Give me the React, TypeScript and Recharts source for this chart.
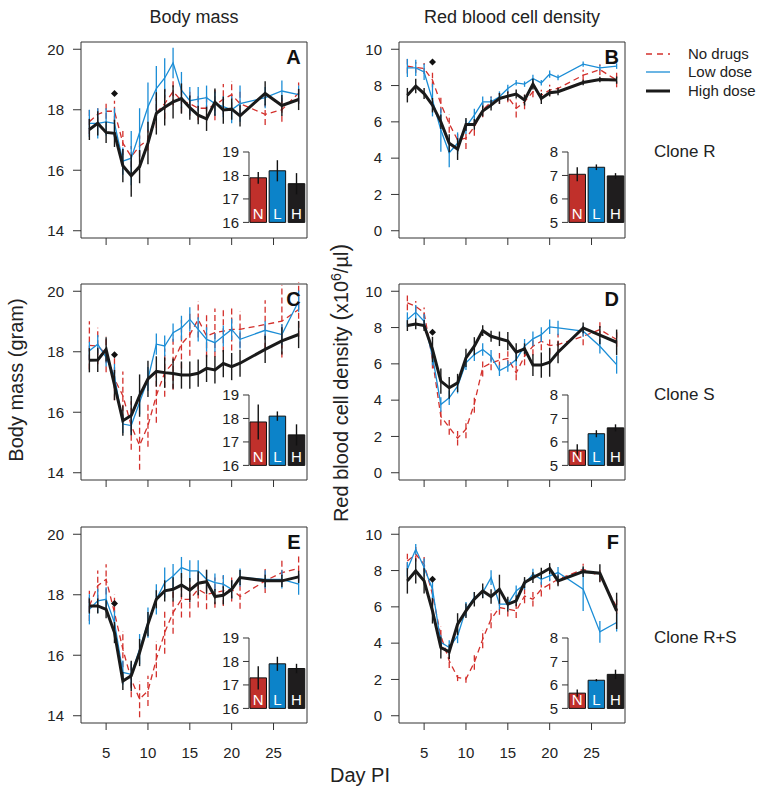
import { ComposedChart, Line, XAxis, YAxis, ErrorBar, ReferenceArea, ReferenceDot, BarChart, Bar, Cell, LabelList } from "recharts"

const FONT = '"Liberation Sans", Arial, Helvetica, sans-serif'
const RED = "#d3302c"
const BLUE = "#1b8dd6"
const BLACK = "#1a1a1a"
const BAR_COLORS = ["#c0302b", "#0c83c9", "#1f1d1e"]

const DAYS = [3, 4, 5, 6, 7, 8, 9, 10, 11, 12, 13, 14, 15, 16, 17, 18, 19, 20, 21, 24, 26, 28]
const X_TICKS = [5, 10, 15, 20, 25]
const MASS_TICKS = [14, 16, 18, 20]
const RBC_TICKS = [0, 2, 4, 6, 8, 10]
const MASS_INSET_TICKS = [16, 17, 18, 19]
const RBC_INSET_TICKS = [5, 6, 7, 8]
const GROUPS = ["N", "L", "H"]

// A: body mass, clone R
const A_N = [17.6, 17.85, 17.95, 17.95, 16.9, 16.45, 16.8, 17.0, 17.9, 18.2, 18.6, 18.3, 18.2, 18.05, 18.05, 18.15, 18.35, 18.5, 18.2, 17.85, 18.0, 18.55]
const A_NE = [0.4, 0.3, 0.25, 0.35, 0.4, 0.35, 0.35, 0.35, 0.5, 0.5, 0.45, 0.4, 0.4, 0.4, 0.4, 0.5, 0.5, 0.45, 0.4, 0.35, 0.4, 0.35]
const A_L = [17.55, 17.55, 17.6, 17.55, 16.3, 16.4, 17.25, 18.1, 18.7, 19.05, 19.55, 18.65, 18.3, 18.35, 18.4, 18.2, 18.1, 18.0, 18.2, 18.4, 18.62, 18.5]
const A_LE = [0.45, 0.5, 0.45, 0.5, 0.45, 0.9, 0.8, 0.8, 0.75, 0.65, 0.5, 0.6, 0.45, 0.4, 0.4, 0.4, 0.35, 0.45, 0.6, 0.35, 0.35, 0.3]
const A_H = [17.35, 17.55, 17.25, 17.22, 16.15, 15.82, 16.12, 16.9, 17.88, 18.08, 18.26, 18.37, 18.07, 17.82, 17.7, 18.25, 17.99, 18.02, 17.8, 18.54, 18.14, 18.34]
const A_HE = [0.35, 0.4, 0.35, 0.45, 0.55, 0.7, 0.55, 0.7, 0.7, 0.6, 0.55, 0.5, 0.4, 0.3, 0.4, 0.45, 0.45, 0.35, 0.35, 0.4, 0.35, 0.35]

// B: red blood cells, clone R
const B_N = [9.07, 9.0, 8.94, 8.3, 7.0, 5.9, 5.0, 5.1, 5.73, 6.65, 7.1, 7.29, 7.38, 6.74, 7.1, 7.66, 7.47, 7.75, 7.84, 8.57, 8.88, 8.3]
const B_NE = [0.4, 0.3, 0.3, 0.4, 0.5, 0.5, 0.5, 0.6, 0.5, 0.4, 0.3, 0.3, 0.3, 0.5, 0.4, 0.3, 0.3, 0.3, 0.25, 0.3, 0.3, 0.4]
const B_L = [8.97, 8.97, 8.75, 7.2, 5.55, 4.3, 4.82, 5.73, 6.37, 7.1, 7.1, 7.38, 7.84, 8.15, 8.08, 8.39, 8.15, 8.63, 8.44, 9.18, 8.97, 9.07]
const B_LE = [0.5, 0.45, 0.45, 0.9, 1.2, 0.8, 0.6, 0.4, 0.35, 0.3, 0.3, 0.3, 0.2, 0.15, 0.15, 0.2, 0.15, 0.2, 0.15, 0.15, 0.15, 0.15]
const B_H = [7.47, 7.97, 7.56, 6.92, 6.0, 4.82, 4.5, 5.86, 5.86, 6.6, 6.92, 7.29, 7.42, 7.53, 7.2, 8.08, 7.29, 7.6, 7.66, 8.17, 8.33, 8.3]
const B_HE = [0.4, 0.4, 0.3, 0.4, 0.4, 0.5, 0.6, 0.35, 0.3, 0.3, 0.3, 0.3, 0.25, 0.25, 0.3, 0.3, 0.3, 0.2, 0.2, 0.15, 0.15, 0.2]

// C: body mass, clone S
const C_N = [18.21, 18.19, 17.92, 17.1, 16.55, 15.56, 14.9, 15.56, 16.55, 17.31, 17.64, 18.25, 18.57, 19.07, 18.52, 18.63, 18.68, 18.74, 18.74, 18.9, 19.01, 19.4]
const C_NE = [0.8, 0.6, 0.6, 0.7, 0.8, 0.8, 0.8, 0.7, 0.9, 0.8, 0.9, 0.8, 0.7, 0.6, 0.7, 0.8, 0.7, 0.7, 0.6, 0.8, 1.2, 0.9]
const C_L = [18.03, 18.25, 17.81, 17.2, 15.61, 15.56, 16.33, 17.1, 18.25, 18.19, 18.63, 18.79, 19.07, 18.74, 18.41, 18.3, 18.52, 18.74, 18.41, 18.71, 18.57, 19.67]
const C_LE = [0.3, 0.3, 0.3, 0.4, 0.3, 0.3, 0.4, 0.4, 0.35, 0.35, 0.3, 0.4, 0.4, 0.4, 0.4, 0.3, 0.35, 0.35, 0.3, 0.3, 0.35, 0.35]
const C_H = [17.72, 17.73, 18.08, 16.9, 15.72, 15.89, 16.55, 17.1, 17.35, 17.31, 17.28, 17.23, 17.23, 17.29, 17.45, 17.4, 17.61, 17.51, 17.62, 18.08, 18.36, 18.57]
const C_HE = [0.4, 0.4, 0.4, 0.5, 0.5, 0.65, 0.7, 0.6, 0.5, 0.5, 0.5, 0.45, 0.45, 0.45, 0.45, 0.45, 0.45, 0.45, 0.45, 0.45, 0.45, 0.45]

// D: red blood cells, clone S
const D_N = [9.36, 9.17, 8.81, 6.24, 3.1, 2.5, 1.9, 2.4, 3.8, 5.8, 6.05, 6.2, 6.3, 5.5, 6.42, 6.97, 7.25, 7.01, 7.06, 7.52, 7.89, 7.34]
const D_NE = [0.4, 0.3, 0.3, 0.5, 0.5, 0.4, 0.4, 0.5, 0.5, 0.5, 0.4, 0.4, 0.4, 0.4, 0.5, 0.5, 0.5, 0.5, 0.6, 0.5, 0.4, 0.4]
const D_L = [8.44, 8.84, 8.35, 6.42, 3.76, 4.13, 4.77, 6.06, 6.51, 6.79, 6.42, 5.63, 5.87, 6.24, 6.97, 7.38, 7.61, 8.04, 7.98, 7.8, 6.97, 5.96]
const D_LE = [0.4, 0.4, 0.4, 0.5, 0.4, 0.4, 0.4, 0.4, 0.35, 0.35, 0.35, 0.3, 0.3, 0.35, 0.4, 0.4, 0.4, 0.4, 0.4, 0.3, 0.4, 0.5]
const D_H = [8.11, 8.2, 8.11, 6.79, 5.05, 4.68, 4.95, 6.33, 6.97, 7.83, 7.52, 7.38, 7.25, 6.64, 6.83, 5.93, 5.93, 6.09, 6.64, 7.98, 7.58, 7.19]
const D_HE = [0.3, 0.3, 0.3, 0.7, 0.7, 0.6, 0.5, 0.5, 0.5, 0.3, 0.3, 0.4, 0.5, 0.5, 0.3, 0.6, 0.7, 0.8, 0.6, 0.3, 0.5, 0.7]

// E: body mass, clone R+S
const E_N = [17.63, 18.3, 18.51, 17.41, 16.2, 15.21, 14.55, 14.82, 15.87, 16.75, 17.41, 17.85, 17.85, 18.18, 18.02, 18.07, 18.13, 18.18, 17.94, 18.46, 18.73, 18.87]
const E_NE = [0.5, 0.5, 0.5, 0.6, 0.6, 0.6, 0.6, 0.5, 0.6, 0.7, 0.7, 0.6, 0.6, 0.6, 0.5, 0.5, 0.5, 0.4, 0.4, 0.4, 0.4, 0.4]
const E_L = [17.52, 17.8, 17.85, 17.08, 15.43, 15.37, 16.2, 17.08, 17.85, 18.4, 18.62, 18.9, 18.79, 18.79, 18.51, 18.4, 18.35, 18.18, 18.57, 18.51, 18.51, 18.35]
const E_LE = [0.5, 0.4, 0.4, 0.4, 0.4, 0.4, 0.5, 0.5, 0.5, 0.5, 0.4, 0.35, 0.35, 0.35, 0.3, 0.3, 0.3, 0.3, 0.3, 0.3, 0.3, 0.35]
const E_H = [17.63, 17.63, 17.52, 16.75, 15.15, 15.32, 16.09, 17.03, 17.85, 18.13, 18.18, 18.32, 18.15, 18.38, 18.43, 17.94, 17.98, 18.18, 18.57, 18.46, 18.46, 18.59]
const E_HE = [0.25, 0.25, 0.3, 0.35, 0.3, 0.5, 0.45, 0.4, 0.3, 0.35, 0.4, 0.4, 0.4, 0.4, 0.4, 0.25, 0.3, 0.3, 0.25, 0.2, 0.2, 0.2]

// F: red blood cells, clone R+S
const F_N = [8.53, 8.9, 8.35, 6.7, 4.4, 3.03, 2.11, 2.02, 2.94, 4.22, 5.32, 5.96, 5.87, 5.78, 6.6, 6.42, 6.97, 7.25, 7.52, 8.07, 7.71, 6.0]
const F_NE = [0.4, 0.4, 0.4, 0.5, 0.5, 0.4, 0.2, 0.2, 0.4, 0.5, 0.5, 0.4, 0.4, 0.4, 0.4, 0.4, 0.4, 0.3, 0.3, 0.3, 0.3, 0.4]
const F_L = [8.07, 9.17, 8.17, 6.97, 4.04, 3.76, 4.4, 5.87, 6.51, 6.79, 7.61, 6.15, 6.15, 6.88, 7.25, 7.8, 7.52, 7.71, 7.89, 6.97, 4.62, 5.14]
const F_LE = [0.4, 0.3, 0.5, 0.5, 0.4, 0.4, 0.4, 0.4, 0.3, 0.3, 0.4, 0.3, 0.3, 0.3, 0.3, 0.3, 0.3, 0.3, 0.3, 1.2, 0.6, 0.5]
const F_H = [7.43, 7.98, 7.43, 5.78, 3.76, 3.52, 5.05, 5.78, 6.42, 6.88, 6.57, 6.97, 6.15, 6.33, 7.34, 7.61, 7.85, 8.11, 7.43, 7.94, 7.85, 5.78]
const F_HE = [0.7, 0.7, 0.7, 0.7, 0.6, 0.4, 0.6, 0.4, 0.4, 0.4, 0.4, 0.8, 0.4, 0.3, 0.3, 0.3, 0.3, 0.3, 0.3, 0.3, 0.5, 1.0]

// inset means (whole period) and errors, order N, L, H
const A_BAR = [17.9, 18.2, 17.65]
const A_BAR_E = [0.25, 0.45, 0.45]
const B_BAR = [7.05, 7.35, 6.98]
const B_BAR_E = [0.3, 0.12, 0.12]
const C_BAR = [17.85, 18.1, 17.3]
const C_BAR_E = [0.75, 0.2, 0.45]
const D_BAR = [5.65, 6.35, 6.6]
const D_BAR_E = [0.25, 0.15, 0.15]
const E_BAR = [17.3, 17.9, 17.7]
const E_BAR_E = [0.5, 0.3, 0.2]
const F_BAR = [5.65, 6.2, 6.45]
const F_BAR_E = [0.15, 0.05, 0.2]

// diamond markers (day, value)
const A_MARK = [6, 18.54]
const B_MARK = [6, 9.3]
const C_MARK = [6, 17.9]
const D_MARK = [6, 7.74]
const E_MARK = [6, 17.71]
const F_MARK = [6, 7.52]

const X_DOMAIN = [2, 29]
const MASS_DOMAIN = [13.76, 20.24]
const RBC_DOMAIN = [-0.4, 10.4]

const BOX_W = 226
const BOX_H = 196
const COLS = [80.7, 399]
const ROWS = [41.7, 284.3, 527.3]
const LEFT_PAD = 45
const TOP_PAD = 10
const X_AXIS_H = 46

const Diamond = (p: any) => (
  <path d={`M${p.cx},${p.cy - 3.5}L${p.cx + 3.5},${p.cy}L${p.cx},${p.cy + 3.5}L${p.cx - 3.5},${p.cy}Z`} fill="#111" />
)

function Panel({ col, row, letter, n, ne, l, le, h, he, bars, barErr, mark, rbc }: any) {
  const left = COLS[col]
  const top = ROWS[row]
  const domain = rbc ? RBC_DOMAIN : MASS_DOMAIN
  const rows = DAYS.map((day, i) => ({ day, n: n[i], ne: ne[i], l: l[i], le: le[i], h: h[i], he: he[i] }))
  const barRows = GROUPS.map((g, i) => ({ g, v: bars[i], e: barErr[i] }))
  const insetTicks = rbc ? RBC_INSET_TICKS : MASS_INSET_TICKS
  const showX = row === 2
  const tickStyle = { fontSize: 15, fill: "#222", fontFamily: FONT }

  return (
    <>
      <div style={{ position: "absolute", left: left - LEFT_PAD, top: top - TOP_PAD }}>
        <ComposedChart width={LEFT_PAD + BOX_W + 12} height={TOP_PAD + BOX_H + X_AXIS_H} data={rows}
          margin={{ top: TOP_PAD, right: 12, left: 0, bottom: 0 }}>
          <XAxis dataKey="day" type="number" domain={X_DOMAIN} ticks={X_TICKS} axisLine={false}
            tickSize={7} tickMargin={17} height={X_AXIS_H} stroke="#333" interval={0}
            tick={tickStyle} tickFormatter={showX ? undefined : () => ""} />
          <YAxis type="number" domain={domain} ticks={rbc ? RBC_TICKS : MASS_TICKS} allowDataOverflow
            axisLine={false} width={LEFT_PAD} tickSize={8} tickMargin={9} stroke="#333" tick={tickStyle} interval={0} />
          <Line dataKey="n" stroke={RED} strokeWidth={1.3} strokeDasharray="6 4" dot={false} isAnimationActive={false}>
            <ErrorBar dataKey="ne" width={0} stroke={RED} strokeWidth={1.3} strokeDasharray="6 3" direction="y" />
          </Line>
          <Line dataKey="l" stroke={BLUE} strokeWidth={1.3} dot={false} isAnimationActive={false}>
            <ErrorBar dataKey="le" width={0} stroke={BLUE} strokeWidth={1.3} direction="y" />
          </Line>
          <Line dataKey="h" stroke={BLACK} strokeWidth={3} dot={false} isAnimationActive={false}>
            <ErrorBar dataKey="he" width={0} stroke={BLACK} strokeWidth={1.4} direction="y" />
          </Line>
          <ReferenceDot x={mark[0]} y={mark[1]} r={3} shape={Diamond} />
          <ReferenceArea x1={X_DOMAIN[0]} x2={X_DOMAIN[1]} y1={domain[0]} y2={domain[1]}
            fill="none" stroke="#333" strokeWidth={1} />
        </ComposedChart>
      </div>
      <div style={{ position: "absolute", left: left + 168.6 - 30, top: top + 110.6 - 10 }}>
        <BarChart width={30 + BOX_W - 168.6} height={90.4} data={barRows}
          margin={{ top: 10, right: 0, left: 0, bottom: 10 }} barSize={16.5}>
          <XAxis dataKey="g" hide />
          <YAxis type="number" domain={[insetTicks[0], insetTicks[3]]} ticks={insetTicks} width={30}
            tickSize={6} tickMargin={4} stroke="#333" tick={tickStyle} interval={0} />
          <Bar dataKey="v" stroke="#111" strokeWidth={1} isAnimationActive={false}>
            {barRows.map((r, i) => <Cell key={r.g} fill={BAR_COLORS[i]} />)}
            <ErrorBar dataKey="e" width={0} stroke="#111" strokeWidth={1.4} direction="y" />
            <LabelList dataKey="g" position="insideBottom" offset={3} fill="#fff"
              style={{ fontSize: 15, fontFamily: FONT }} />
          </Bar>
        </BarChart>
      </div>
      <div style={{
        position: "absolute", left: left + BOX_W - 40, width: 34, top: top + 4, textAlign: "right",
        fontFamily: FONT, fontWeight: 700, fontSize: 20, color: "#111",
      }}>{letter}</div>
    </>
  )
}

export default function App() {
  return (
    <div style={{ position: "absolute", left: 0, top: 0, width: 764, height: 792, background: "#fff", fontFamily: FONT }}>
      <svg width={764} height={792} style={{ position: "absolute", left: 0, top: 0 }} fontFamily={FONT} fill="#222">
        <text x={194} y={23} fontSize={18} textAnchor="middle">Body mass</text>
        <text x={512} y={23} fontSize={18} textAnchor="middle">Red blood cell density</text>
        <text x={23} y={380} fontSize={20} textAnchor="middle" transform="rotate(-90 23 380)">Body mass (gram)</text>
        <text x={348} y={383} fontSize={20} textAnchor="middle" transform="rotate(-90 348 383)">
          Red blood cell density <tspan fontSize={23}>(</tspan>x10<tspan dy={-7} fontSize={14}>6</tspan>
          <tspan dy={7}>/µl</tspan><tspan fontSize={23}>)</tspan>
        </text>
        <text x={360} y={782} fontSize={20} textAnchor="middle">Day PI</text>
        <line x1={646} x2={670} y1={54} y2={54} stroke={RED} strokeWidth={1.3} strokeDasharray="6 5" />
        <line x1={646} x2={670} y1={72} y2={72} stroke={BLUE} strokeWidth={1.3} />
        <line x1={646} x2={670} y1={91} y2={91} stroke={BLACK} strokeWidth={3} />
        <text x={688} y={59} fontSize={15}>No drugs</text>
        <text x={688} y={77} fontSize={15}>Low dose</text>
        <text x={688} y={96} fontSize={15}>High dose</text>
        <text x={654} y={157} fontSize={17}>Clone R</text>
        <text x={654} y={400} fontSize={17}>Clone S</text>
        <text x={654} y={643} fontSize={17}>Clone R+S</text>
      </svg>
      <Panel col={0} row={0} letter="A" n={A_N} ne={A_NE} l={A_L} le={A_LE} h={A_H} he={A_HE} bars={A_BAR} barErr={A_BAR_E} mark={A_MARK} />
      <Panel col={1} row={0} letter="B" n={B_N} ne={B_NE} l={B_L} le={B_LE} h={B_H} he={B_HE} bars={B_BAR} barErr={B_BAR_E} mark={B_MARK} rbc />
      <Panel col={0} row={1} letter="C" n={C_N} ne={C_NE} l={C_L} le={C_LE} h={C_H} he={C_HE} bars={C_BAR} barErr={C_BAR_E} mark={C_MARK} />
      <Panel col={1} row={1} letter="D" n={D_N} ne={D_NE} l={D_L} le={D_LE} h={D_H} he={D_HE} bars={D_BAR} barErr={D_BAR_E} mark={D_MARK} rbc />
      <Panel col={0} row={2} letter="E" n={E_N} ne={E_NE} l={E_L} le={E_LE} h={E_H} he={E_HE} bars={E_BAR} barErr={E_BAR_E} mark={E_MARK} />
      <Panel col={1} row={2} letter="F" n={F_N} ne={F_NE} l={F_L} le={F_LE} h={F_H} he={F_HE} bars={F_BAR} barErr={F_BAR_E} mark={F_MARK} rbc />
    </div>
  )
}
